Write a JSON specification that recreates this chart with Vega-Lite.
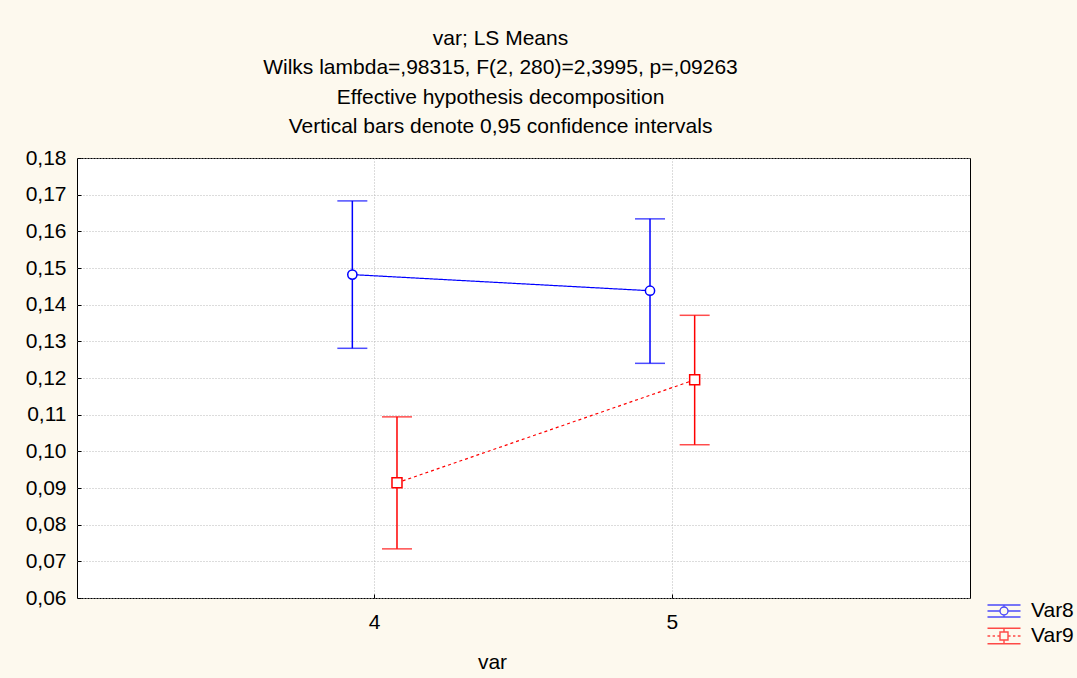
{
  "$schema": "https://vega.github.io/schema/vega-lite/v6.json",
  "autosize": "none",
  "width": 893,
  "height": 440,
  "padding": {"left": 77, "top": 158, "right": 107, "bottom": 80},
  "background": "#fdf9ee",
  "title": {
    "text": ["var; LS Means", "Wilks lambda=,98315, F(2, 280)=2,3995, p=,09263", "Effective hypothesis decomposition", "Vertical bars denote 0,95 confidence intervals"],
    "anchor": "middle",
    "frame": "group",
    "baseline": "alphabetic",
    "offset": -7,
    "dx": -23,
    "lineHeight": 29.3,
    "font": "Liberation Sans",
    "fontSize": 21,
    "fontWeight": "normal",
    "color": "black"
  },
  "config": {
    "view": {"fill": "white", "stroke": "black", "strokeWidth": 1},
    "axis": {
      "domain": false,
      "grid": true,
      "gridColor": "#b8b8b8",
      "gridDash": [1, 2],
      "gridWidth": 1,
      "ticks": true,
      "tickSize": -4,
      "tickColor": "black",
      "tickWidth": 1,
      "labelOverlap": false,
      "labelFont": "Liberation Sans",
      "labelFontSize": 21,
      "labelColor": "black",
      "titleFont": "Liberation Sans",
      "titleFontSize": 21,
      "titleFontWeight": "normal",
      "titleColor": "black"
    },
    "axisY": {
      "title": null,
      "values": [0.06, 0.07, 0.08, 0.09, 0.1, 0.11, 0.12, 0.13, 0.14, 0.15, 0.16, 0.17, 0.18],
      "labelExpr": "replace(format(datum.value, '.2f'), '.', ',')",
      "labelPadding": 15
    },
    "legend": {
      "labelFont": "Liberation Sans",
      "labelFontSize": 21,
      "labelColor": "black"
    }
  },
  "data": {
    "values": [
      {"series": "Var8", "var": "4", "mean": 0.1482, "lower": 0.1281, "upper": 0.1683},
      {"series": "Var8", "var": "5", "mean": 0.1438, "lower": 0.1240, "upper": 0.1634},
      {"series": "Var9", "var": "4", "mean": 0.0914, "lower": 0.0734, "upper": 0.1094},
      {"series": "Var9", "var": "5", "mean": 0.1195, "lower": 0.1018, "upper": 0.1371}
    ]
  },
  "encoding": {
    "x": {
      "field": "var",
      "type": "nominal",
      "sort": ["4", "5"],
      "scale": {"type": "band", "domain": ["4", "5"], "paddingInner": 0.7, "paddingOuter": 0.85},
      "axis": {"labelAngle": 0, "labelPadding": 17, "title": "var", "titleBaseline": "alphabetic", "titleY": 70, "titleX": 415, "titleAlign": "center"}
    },
    "xOffset": {
      "field": "series",
      "type": "nominal",
      "scale": {"type": "band", "domain": ["Var8", "Var9"], "paddingInner": 0, "paddingOuter": 0}
    }
  },
  "layer": [
    {
      "mark": {"type": "rule", "strokeWidth": 1.5},
      "encoding": {
        "y": {
          "field": "lower",
          "type": "quantitative",
          "scale": {"domain": [0.06, 0.18], "nice": false, "zero": false}
        },
        "y2": {"field": "upper"},
        "color": {"condition": {"test": "datum.series === 'Var8'", "value": "#0000ff"}, "value": "#ff0000"}
      }
    },
    {
      "mark": {"type": "tick", "orient": "horizontal", "size": 30, "thickness": 1.5},
      "encoding": {
        "y": {"field": "upper", "type": "quantitative"},
        "color": {"condition": {"test": "datum.series === 'Var8'", "value": "#0000ff"}, "value": "#ff0000"}
      }
    },
    {
      "mark": {"type": "tick", "orient": "horizontal", "size": 30, "thickness": 1.5},
      "encoding": {
        "y": {"field": "lower", "type": "quantitative"},
        "color": {"condition": {"test": "datum.series === 'Var8'", "value": "#0000ff"}, "value": "#ff0000"}
      }
    },
    {
      "mark": {"type": "line", "strokeWidth": 1.2},
      "encoding": {
        "y": {"field": "mean", "type": "quantitative"},
        "detail": {"field": "series"},
        "color": {"condition": {"test": "datum.series === 'Var8'", "value": "#0000ff"}, "value": "#ff0000"},
        "strokeDash": {"condition": {"test": "datum.series === 'Var9'", "value": [3, 3]}, "value": [1, 0]}
      }
    },
    {
      "mark": {"type": "point", "filled": true, "fill": "white", "strokeWidth": 1.5, "opacity": 1},
      "encoding": {
        "y": {"field": "mean", "type": "quantitative"},
        "shape": {"condition": {"test": "datum.series === 'Var8'", "value": "circle"}, "value": "square"},
        "size": {"condition": {"test": "datum.series === 'Var8'", "value": 85}, "value": 100},
        "stroke": {"condition": {"test": "datum.series === 'Var8'", "value": "#0000ff"}, "value": "#ff0000"}
      }
    },
    {
      "transform": [{"filter": "false"}],
      "mark": {"type": "point", "filled": false, "strokeWidth": 1.4},
      "encoding": {
        "y": {"field": "mean", "type": "quantitative"},
        "shape": {
          "field": "series",
          "type": "nominal",
          "scale": {
            "domain": ["Var8", "Var9"],
            "range": [
              "M-1.375,0H-0.333M0.333,0H1.375M-1.375,-0.5H1.375M-1.375,0.5H1.375M0,-0.5V-0.333M0,0.333V0.5M0.333,0A0.333,0.333 0 1,1 -0.333,0A0.333,0.333 0 1,1 0.333,0Z",
              "M-1.375,0H-1.15M-0.95,0H-0.75M-0.55,0H-0.35M0.35,0H0.55M0.75,0H0.95M1.15,0H1.375M-1.375,-0.65H1.375M-1.375,0.65H1.375M0,-0.65V-0.333M0,0.333V0.65M-0.333,-0.333H0.333V0.333H-0.333Z"
            ]
          },
          "legend": {
            "title": null,
            "orient": "none",
            "legendX": 914,
            "legendY": 440,
            "padding": 0,
            "symbolSize": 576,
            "symbolStrokeWidth": 1.4,
            "labelOffset": 14,
            "rowPadding": 2
          }
        },
        "color": {
          "field": "series",
          "type": "nominal",
          "scale": {"domain": ["Var8", "Var9"], "range": ["#0000ff", "#ff0000"]}
        }
      }
    }
  ]
}
